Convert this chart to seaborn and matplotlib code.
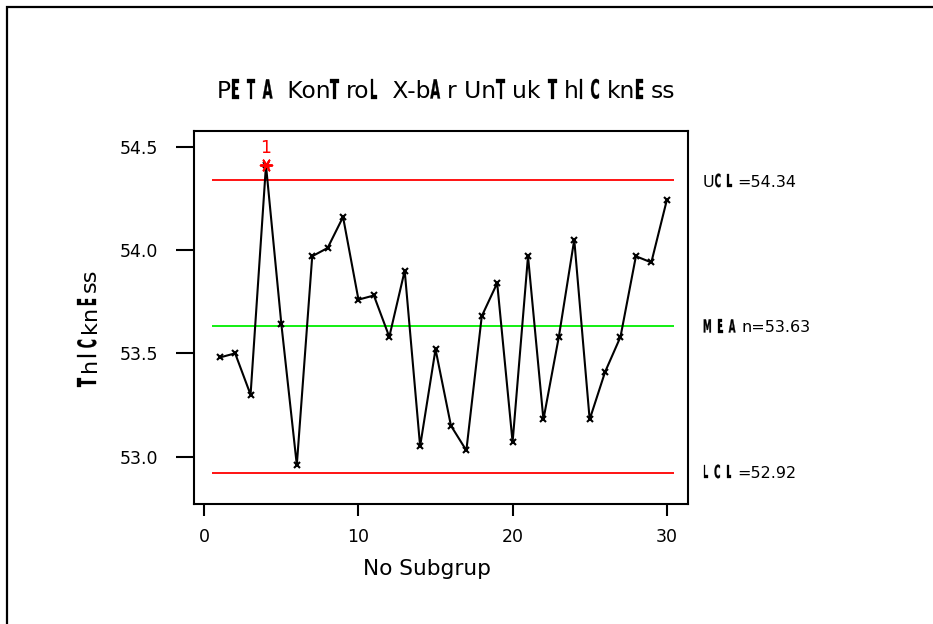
import numpy as np
import pandas as pd
import seaborn as sns
import matplotlib
matplotlib.use("Agg")
import matplotlib.pyplot as plt
from matplotlib.font_manager import FontProperties
from matplotlib.patches import Rectangle
from matplotlib.patheffects import AbstractPathEffect
from matplotlib.transforms import Affine2D

# ---- data -------------------------------------------------------------
subgroup = list(range(1, 31))
thickness = [53.48, 53.50, 53.30, 54.41, 53.64, 52.96, 53.97, 54.01, 54.16, 53.76,
             53.78, 53.58, 53.90, 53.05, 53.52, 53.15, 53.03, 53.68, 53.84, 53.07,
             53.97, 53.18, 53.58, 54.05, 53.18, 53.41, 53.58, 53.97, 53.94, 54.24]
mean_line = 53.63
ucl = 54.34
lcl = 52.92
x_ticks = [0, 10, 20, 30]
y_ticks = [53.0, 53.5, 54.0, 54.5]

title_text = "PETA KonTroL X-bAr UnTuk ThICknEss"
xlabel_text = "No Subgrup"
ylabel_text = "ThICknEss"
ucl_text = f"UCL={ucl:.2f}"
mean_text = f"MEAn={mean_line:.2f}"
lcl_text = f"LCL={lcl:.2f}"
test_flag = "1"

# letters drawn in the tall narrow face
NARROW_LETTERS = set("ETALICM")

# ---- fonts ------------------------------------------------------------
sns.set_theme(style="white")
plt.rcParams["font.family"] = ["DejaVu Sans"]
NORMAL_FP = FontProperties(family="DejaVu Sans")
NARROW_FP = FontProperties(family="DejaVu Sans", weight="bold")
NARROW_WIDTH = 0.55    # narrow glyphs are set at this fraction of the size ...
NARROW_HEIGHT = 1.13   # ... and stretched back up to this fraction of it


class TallGlyphs(AbstractPathEffect):
    """Stretches glyphs vertically in the text's own frame (origin at the
    left end of the baseline) and thickens them slightly with a stroke."""

    def __init__(self, sy, stroke=0.2):
        super().__init__()
        self.sy = sy
        self.stroke = stroke

    def draw_path(self, renderer, gc, tpath, affine, rgbFace=None):
        trans = Affine2D().scale(1.0, self.sy) + affine
        gc0 = renderer.new_gc()
        gc0.copy_properties(gc)
        gc0.set_linewidth(self.stroke)
        gc0.set_foreground(rgbFace)
        renderer.draw_path(gc0, tpath, trans, rgbFace)
        gc0.restore()


W, H = 933, 624
fig = plt.figure(figsize=(W / 100, H / 100), dpi=100)
fig.patch.set_facecolor("white")
renderer = fig.canvas.get_renderer()


def split_parts(s):
    parts = []
    buf = ""
    for ch in s:
        if ch in NARROW_LETTERS:
            if buf:
                parts.append((buf, False))
                buf = ""
            parts.append((ch, True))
        else:
            buf += ch
    if buf:
        parts.append((buf, False))
    return parts


def styled_text(x_px, y_px, s, size, rotation=0, color="black", gap=0.25):
    """Draw s starting at (x_px, y_px) measured from the top-left corner,
    mixing the regular and narrow faces letter by letter."""
    pos = x_px if rotation == 0 else (H - y_px)
    for seg, narrow in split_parts(s):
        fp = (NARROW_FP if narrow else NORMAL_FP).copy()
        kw = dict(color=color, ha="left", va="baseline")
        if narrow:
            fp.set_size(size * NARROW_WIDTH)
            kw["path_effects"] = [TallGlyphs(NARROW_HEIGHT / NARROW_WIDTH)]
        else:
            fp.set_size(size)
        if rotation == 0:
            t = fig.text(pos / W, (H - y_px) / H, seg, fontproperties=fp, **kw)
        else:
            t = fig.text(x_px / W, pos / H, seg, fontproperties=fp, rotation=90,
                         rotation_mode="anchor", **kw)
        bb = t.get_window_extent(renderer)
        step = bb.width if rotation == 0 else bb.height
        if narrow:
            step += gap * size * 100 / 72
        pos += step


# ---- axes -------------------------------------------------------------
ax = fig.add_axes([194 / W, 1 - 504 / H, (688 - 194) / W, (504 - 131) / H])
ax.set_facecolor("white")

df = pd.DataFrame({"subgroup": subgroup, "thickness": thickness})

ax.hlines(ucl, 0.5, 30.5, color="#ff0000", lw=1.3, zorder=1)
ax.hlines(lcl, 0.5, 30.5, color="#ff0000", lw=1.3, zorder=1)
ax.hlines(mean_line, 0.5, 30.5, color="#00ee00", lw=1.3, zorder=1)

sns.lineplot(data=df, x="subgroup", y="thickness", ax=ax, color="black", lw=1.5,
             marker="x", markersize=4.5, markeredgewidth=1.5, markeredgecolor="black",
             zorder=3)

out = df[(df["thickness"] > ucl) | (df["thickness"] < lcl)]
sns.scatterplot(data=out, x="subgroup", y="thickness", ax=ax, color="#ff0000",
                marker=(6, 2, 90), s=70, linewidth=1.4, edgecolor="#ff0000", zorder=4,
                legend=False)
for _, r in out.iterrows():
    ax.annotate(test_flag, (r["subgroup"], r["thickness"]), xytext=(0, 9),
                textcoords="offset points", ha="center", va="baseline",
                color="#ff0000", fontsize=12.5)

ax.set_xlim(-0.67, 31.38)
ax.set_ylim(52.771, 54.576)
ax.set_xticks(x_ticks)
ax.set_xticklabels([str(v) for v in x_ticks])
ax.set_yticks(y_ticks)
ax.set_yticklabels([f"{v:.1f}" for v in y_ticks])
ax.tick_params(axis="x", direction="out", length=8.6, width=1.5, pad=9,
               labelsize=12.5, colors="black", bottom=True)
ax.tick_params(axis="y", direction="out", length=13, width=1.5, pad=13,
               labelsize=12.5, colors="black", left=True)
for sp in ax.spines.values():
    sp.set_visible(True)
    sp.set_color("black")
    sp.set_linewidth(1.5)
ax.grid(False)

ax.set_xlabel(xlabel_text, fontsize=15.6, color="black", va="top")
ax.xaxis.set_label_coords((427 - 194) / 494, (504 - 559) / 373)
ax.set_ylabel("")

# ---- mixed-face texts -------------------------------------------------
styled_text(217, 98.5, title_text, 16.8, gap=0.3)
styled_text(96, 386.7, ylabel_text, 16.2, rotation=90)
styled_text(703, 187, ucl_text, 11.5, gap=0.35)
styled_text(703, 332.5, mean_text, 11.5, gap=0.35)
styled_text(703, 478, lcl_text, 11.5, gap=0.35)

# frame around the graph window
fig.patches.append(Rectangle((7 / W, -0.1), 1.2, (H - 7) / H + 0.1, transform=fig.transFigure,
                             fill=False, lw=1.6, edgecolor="black", clip_on=False))

fig.savefig("out.png", dpi=100, facecolor="white")
